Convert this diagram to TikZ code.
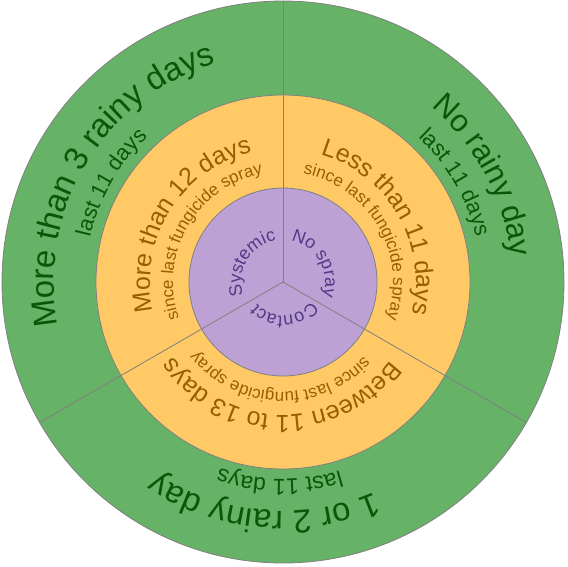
\documentclass[tikz,border=0pt]{standalone}
\usepackage{fontspec}
\usetikzlibrary{decorations.text}
\newfontfamily\lib{Liberation Sans}
\definecolor{ringgreen}{RGB}{102,178,102}
\definecolor{ringorange}{RGB}{255,201,102}
\definecolor{ringpurple}{RGB}{189,161,212}
\definecolor{edgegray}{RGB}{128,128,128}
\definecolor{gtext}{RGB}{8,88,8}
\definecolor{otext}{RGB}{150,95,0}
\definecolor{ptext}{RGB}{80,58,135}
\newcommand\arctxt[6]{%
  \path[decorate,decoration={text along path,text align=center,
    text={|\lib\fontsize{#4}{#4}\selectfont\color{#5}|#6}}]
    ({#1+#3}:#2pt) arc[start angle={#1+#3},end angle={#1-#3},radius=#2pt];}
\tikzset{ring/.style={draw=edgegray,line width=0.8pt},
  divider/.style={draw=edgegray,line width=0.8pt}}
\begin{document}
\begin{tikzpicture}
\useasboundingbox (-283pt,-284pt) rectangle (285pt,282pt);
\coordinate (c) at (0,0);
\fill[ringgreen,ring] (c) circle[radius=281pt];
\fill[ringorange,ring] (c) circle[radius=187pt];
\fill[ringpurple,ring] (c) circle[radius=94pt];
\foreach \a/\n in {90/t,210/l,330/r}{
  \coordinate (e\n) at (\a:281pt);
  \draw[divider] (c) -- (e\n);
}
% outer ring
\arctxt{149}{229}{58}{33}{gtext}{More than 3 rainy days}
\arctxt{150}{198}{58}{22}{gtext}{last 11 days}
\arctxt{28}{229}{58}{31}{gtext}{No rainy day}
\arctxt{30}{198}{58}{22}{gtext}{last 11 days}
\arctxt{265}{229}{58}{33}{gtext}{1 or 2 rainy day}
\arctxt{269}{197}{58}{23}{gtext}{last 11 days}
% middle ring
\arctxt{148}{133}{58}{25}{otext}{More than 12 days}
\arctxt{150}{110}{58}{17}{otext}{since last fungicide spray}
\arctxt{30}{133}{58}{25}{otext}{Less than 11 days}
\arctxt{30}{110}{58}{17}{otext}{since last fungicide spray}
\arctxt{269}{133}{58}{25}{otext}{Between 11 to 13 days}
\arctxt{268}{110}{58}{17}{otext}{since last fungicide spray}
% inner
\arctxt{149}{42}{58}{18}{ptext}{Systemic}
\arctxt{30}{42}{58}{18}{ptext}{No spray}
\arctxt{273}{34}{70}{18}{ptext}{Contact}
\end{tikzpicture}
\end{document}
